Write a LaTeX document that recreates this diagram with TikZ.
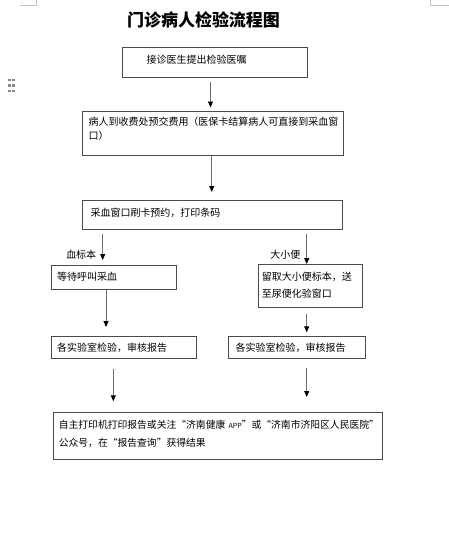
\documentclass[tikz,border=0pt]{standalone}
\usepackage{fontspec}
\setmainfont{Noto Sans CJK SC}
\usepackage{tikz}
\usetikzlibrary{arrows.meta,positioning}
\usepackage{xcolor}
\definecolor{fcline}{RGB}{75,75,75}
\definecolor{fcarrow}{RGB}{110,110,110}
\definecolor{fcmark}{RGB}{195,195,195}
\tikzstyle{arrow} = [line width=0.9pt, color=fcarrow, -{Triangle[length=6pt,width=5pt,color=black]}]
\tikzstyle{flowbox} = [rectangle, draw=fcline, line width=1pt, align=left, inner ysep=3pt, font=\fontsize{10}{14}\selectfont]
\tikzstyle{tag} = [font=\fontsize{10}{12}\selectfont, text=black, inner sep=1pt]

\begin{document}
\begin{tikzpicture}[x=1pt, y=-1pt]
\useasboundingbox[fill=white] (0,0) rectangle (449,539);

% page marks
\draw[fcmark, line width=0.8pt] (20,5) -- (36,5) -- (36,0);
\draw[fcmark, line width=0.8pt] (449,5) -- (430,5) -- (430,0);
\foreach \i in {80,85.5,91}
  \foreach \j in {9.3,13.3}
    \fill[fcmark!70!black] (\j-1.3,\i-1.3) rectangle (\j+1.3,\i+1.3);

\node[flowbox, anchor=north west, inner xsep=24pt, text width=137pt, text height=13pt, text depth=11pt] (b1) at (122,47) {接诊医生提出检验医嘱};
\node[font=\fontsize{17}{20}\selectfont\bfseries, above=15pt of b1, xshift=-11.5pt] (title) {门诊病人检验流程图};
\node[flowbox, below=32.5pt of b1.south west, anchor=north west, xshift=-40pt, inner xsep=6pt, text width=249pt, text height=11.5pt, text depth=27pt] (b2) {病人到收费处预交费用（医保卡结算病人可直接到采血窗\\口）};
\node[flowbox, below=44pt of b2.south west, anchor=north west, inner xsep=8pt, text width=244pt, text height=13pt, text depth=10pt] (b3) {采血窗口刷卡预约，打印条码};

\node[flowbox, below=35pt of b3.south west, anchor=north west, xshift=-31.3pt, inner xsep=6pt, text width=113pt, text height=12.3pt, text depth=6pt] (l1) {等待呼叫采血};
\node[flowbox, font=\fontsize{10}{17}\selectfont, below=34pt of b3.south east, anchor=north east, xshift=20.3pt, inner xsep=3pt, text width=98pt, text height=13.3pt, text depth=23.3pt] (r1) {留取大小便标本，送\\至尿便化验窗口};

\node[flowbox, below=45.7pt of l1.south west, anchor=north west, inner xsep=6pt, text width=133pt, text height=11.8pt, text depth=3.8pt] (l2) {各实验室检验，审核报告};
\node[flowbox, below=28.4pt of r1.south west, anchor=north west, xshift=-30pt, inner xsep=6.7pt, text width=123.3pt, text height=11.8pt, text depth=3.8pt] (r2) {各实验室检验，审核报告};

\node[flowbox, font=\fontsize{9.8}{17.4}\selectfont, below=53.4pt of l2.south west, anchor=north west, xshift=2.6pt, inner xsep=5pt, text width=318.4pt, text height=13.3pt, text depth=27.3pt] (fin) {\mbox{自主打印机打印报告或关注“济南健康~{\fontsize{7}{8}\selectfont APP}”或“济南市济阳区人民医院”}\\公众号，在“报告查询”获得结果};

\draw[arrow, shorten <=4pt, shorten >=3pt] ([xshift=-4.5pt]b1.south) -- ([xshift=-4.5pt]b1.south |- b2.north);
\draw[arrow, shorten >=8pt] ([xshift=-1.3pt]b2.south) -- ([xshift=-1.3pt]b2.south |- b3.north);

\draw[arrow, shorten <=3.5pt, shorten >=5pt] (b3.south -| 102.7,0) -- node[tag, pos=0.71, left=5pt] (blood) {血标本} (l1.north -| 102.7,0);
\draw[arrow, shorten <=3.5pt] (b3.south -| 306.7,0) -- node[tag, pos=0.74, left=5pt] (stool) {大小便} (r1.north -| 306.7,0);

\draw[arrow, shorten >=9pt] (l1.south -| 106,0) -- (l2.north -| 106,0);
\draw[arrow, shorten <=6pt, shorten >=3.7pt] (r1.south -| 306.7,0) -- (r2.north -| 306.7,0);

\draw[arrow, shorten <=10pt, shorten >=10.7pt] (l2.south -| 113.3,0) -- (fin.north -| 113.3,0);
\draw[arrow, shorten <=9.7pt, shorten >=15pt] (r2.south -| 306.7,0) -- (fin.north -| 306.7,0);
\end{tikzpicture}
\end{document}
